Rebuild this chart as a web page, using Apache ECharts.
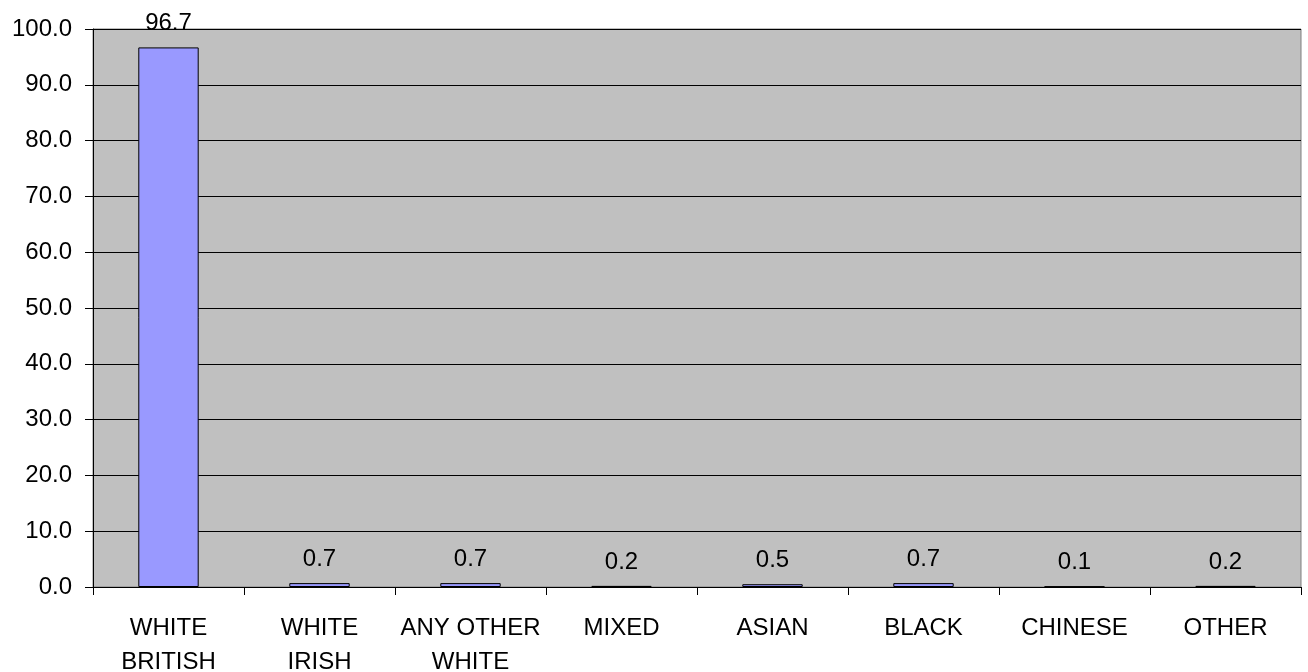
<!DOCTYPE html>
<html>
<head>
<meta charset="utf-8">
<script src="https://cdn.jsdelivr.net/npm/echarts@6/dist/echarts.min.js"></script>
<style>
  html, body { margin: 0; padding: 0; background: #ffffff; }
  #chart { width: 1308px; height: 672px; }
</style>
</head>
<body>
<div id="chart"></div>
<script>
// Ethnic group shares (%)
const categories = ['WHITE\nBRITISH', 'WHITE\nIRISH', 'ANY OTHER\nWHITE', 'MIXED', 'ASIAN', 'BLACK', 'CHINESE', 'OTHER'];
const values = [96.7, 0.7, 0.7, 0.2, 0.5, 0.7, 0.1, 0.2];
const yMin = 0;
const yMax = 100;
const yStep = 10;

const chart = echarts.init(document.getElementById('chart'), null, { renderer: 'canvas' });
const FONT = '"Liberation Sans", Arial, sans-serif';

chart.setOption({
  animation: false,
  grid: {
    left: 93, right: 7, top: 29, bottom: 85,
    containLabel: false,
    outerBoundsMode: 'none',
    show: true,
    backgroundColor: '#c0c0c0',
    borderColor: '#808080',
    borderWidth: 1
  },
  xAxis: {
    type: 'category',
    data: categories,
    axisLine: { lineStyle: { color: '#000000', width: 1 } },
    axisTick: { show: true, length: 8, lineStyle: { color: '#000000' } },
    axisLabel: {
      color: '#000000', fontFamily: FONT, fontSize: 24,
      lineHeight: 34, margin: 24, interval: 0
    }
  },
  yAxis: {
    type: 'value',
    min: yMin, max: yMax, interval: yStep,
    axisLine: { show: true, lineStyle: { color: '#000000', width: 1 } },
    axisTick: { show: true, length: 8, lineStyle: { color: '#000000' } },
    splitLine: { show: true, lineStyle: { color: '#000000', width: 1 } },
    axisLabel: {
      color: '#000000', fontFamily: FONT, fontSize: 24, margin: 21,
      formatter: v => v.toFixed(1)
    }
  },
  series: [{
    type: 'bar',
    data: values,
    barWidth: '40%',
    itemStyle: { color: '#9999ff', borderColor: '#000000', borderWidth: 1 },
    label: {
      show: true, position: 'top', distance: 12,
      color: '#000000', fontFamily: FONT, fontSize: 24,
      formatter: p => p.value.toFixed(1)
    }
  }]
});
</script>
</body>
</html>
